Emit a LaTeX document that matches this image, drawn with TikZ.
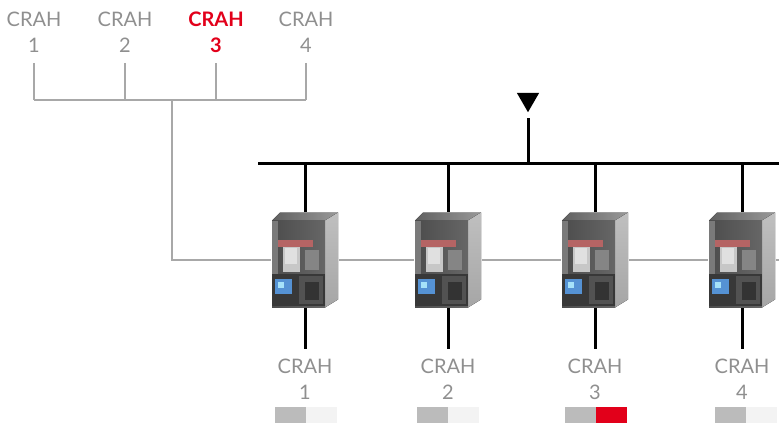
\documentclass[tikz,border=0pt]{standalone}
\usepackage{fontspec}
\setmainfont{Lato}
\definecolor{txtgray}{HTML}{8F8F8F}
\definecolor{lngray}{HTML}{A8A8A8}
\definecolor{abbred}{HTML}{E2001A}
\definecolor{barg}{HTML}{BBBBBB}
\definecolor{barl}{HTML}{F3F3F3}
\tikzset{
  breaker/.pic={
    \fill[left color=gray!75!black,right color=gray!80] (-33,-39) -- (-25,-47) -- (33,-47) -- (20,-39) -- cycle;
    \fill[top color=gray!50,bottom color=gray!70] (20,-39) -- (33,-47) -- (33,40) -- (20,48) -- cycle;
    \fill[left color=black!70,right color=black!60] (-33,-39) rectangle (20,48);
    \fill[black!52] (-33,-39) rectangle (-27,14);
    \fill[black!78] (-33,14) rectangle (20,46);
    \fill[black!68] (-6,16) rectangle (18,44);
    \fill[black!80] (0,22) rectangle (14,40);
    \fill[cyan!55!blue!70!white] (-30,19) rectangle (-13,34);
    \fill[cyan!35!white] (-27,22) rectangle (-21,28);
    \fill[red!35!gray!90] (-27,-20) rectangle (8,-13);
    \fill[black!22] (-22,-13) rectangle (-5,12);
    \fill[black!12] (-20,-12) rectangle (-8,4);
    \fill[black!48] (0,-10) rectangle (14,10);
  }
}
\begin{document}
\begin{tikzpicture}[x=1pt,y=-1pt,
  lbl/.style={align=center,text=txtgray,font=\fontsize{20}{26}\selectfont,inner xsep=0pt,inner ysep=10pt},
  glink/.style={draw=lngray,line width=2pt},
  blink/.style={draw=black,line width=3pt},
  brk/.style={minimum width=68pt,minimum height=95pt,inner sep=0pt},
  bar/.style={minimum width=31pt,minimum height=16pt,inner sep=0pt}]
\useasboundingbox (0,0) rectangle (779,423);

% top labels
\node[lbl,anchor=north] (t1) at (34,2) {CRAH\\1};
\node[lbl,anchor=north] (t2) at (125,2) {CRAH\\2};
\node[lbl,anchor=north,text=abbred,font=\fontsize{20}{26}\selectfont\bfseries] (t3) at (216,2) {CRAH\\3};
\node[lbl,anchor=north] (t4) at (306,2) {CRAH\\4};
\coordinate (hj) at (172,100);

% breakers (placeholders)
\node[brk] (b1) at (305,259.5) {};
\node[brk] (b2) at (448,259.5) {};
\node[brk] (b3) at (595,259.5) {};
\node[brk] (b4) at (742,259.5) {};
\coordinate (rend) at (779,259.5);

% source and bus
\node[minimum width=22pt,minimum height=19pt,inner sep=0pt] (src) at (528,102.5) {};
\coordinate (busL) at (258,163);
\coordinate (busR) at (779,163);

% bottom labels
\node[lbl,anchor=north] (l1) at (305,349) {CRAH\\1};
\node[lbl,anchor=north] (l2) at (448,349) {CRAH\\2};
\node[lbl,anchor=north] (l3) at (595,349) {CRAH\\3};
\node[lbl,anchor=north] (l4) at (742,349) {CRAH\\4};

% gray control wiring
\draw[glink] (t1.south) -- (t1.south |- hj);
\draw[glink] (t2.south) -- (t2.south |- hj);
\draw[glink] (t3.south) -- (t3.south |- hj);
\draw[glink] (t4.south) -- (t4.south |- hj);
\draw[glink] (t1.south |- hj) -- (t4.south |- hj);
\draw[glink] (hj) |- (b1.west);
\draw[glink] (b1.east) -- (b2.west);
\draw[glink] (b2.east) -- (b3.west);
\draw[glink] (b3.east) -- (b4.west);
\draw[glink] (b4.east) -- (rend);

% power
\fill (src.north west) -- (src.north east) -- (src.south) -- cycle;
\draw[blink] (busL) -- (busR);
\draw[blink,shorten <=6pt] (src.south) -- (src.south |- busL);
\draw[blink] (b1.north |- busL) -- (b1.north);
\draw[blink] (b2.north |- busL) -- (b2.north);
\draw[blink] (b3.north |- busL) -- (b3.north);
\draw[blink] (b4.north |- busL) -- (b4.north);
\draw[blink] (b1.south) -- (l1.north);
\draw[blink] (b2.south) -- (l2.north);
\draw[blink] (b3.south) -- (l3.north);
\draw[blink] (b4.south) -- (l4.north);

% breaker drawings
\pic at (b1.center) {breaker};
\pic at (b2.center) {breaker};
\pic at (b3.center) {breaker};
\pic at (b4.center) {breaker};

% indicator bars
\node[bar,fill=barg] (i1a) at (290.5,415) {};
\node[bar,fill=barl,anchor=west] (i1b) at (i1a.east) {};
\node[bar,fill=barg] (i2a) at (432.5,415) {};
\node[bar,fill=barl,anchor=west] (i2b) at (i2a.east) {};
\node[bar,fill=barg] (i3a) at (580,415) {};
\node[bar,fill=abbred,anchor=west] (i3b) at (i3a.east) {};
\node[bar,fill=barg] (i4a) at (730.5,415) {};
\node[bar,fill=barl,anchor=west] (i4b) at (i4a.east) {};
\end{tikzpicture}
\end{document}
